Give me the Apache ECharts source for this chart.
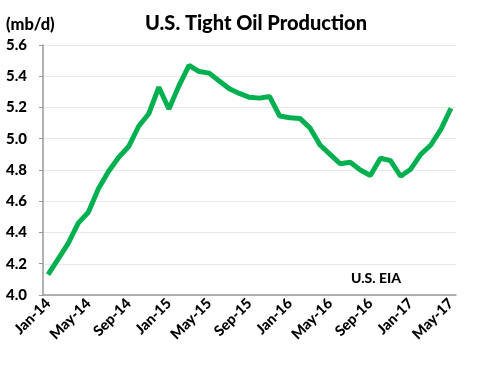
<!DOCTYPE html>
<html>
<head>
<meta charset="utf-8">
<script src="https://cdn.jsdelivr.net/npm/echarts@6/dist/echarts.min.js"></script>
<style>html,body{margin:0;padding:0;background:#fff}#c{width:478px;height:366px}</style>
</head>
<body>
<div id="c"></div>
<script>
const months = ['Jan','Feb','Mar','Apr','May','Jun','Jul','Aug','Sep','Oct','Nov','Dec'];
const categories = [];
for (let y = 14; y <= 17; y++) for (let m = 0; m < 12; m++) { if (y === 17 && m > 4) break; categories.push(months[m] + '-' + y); }
const production = [4.13,4.23,4.33,4.46,4.53,4.68,4.79,4.88,4.95,5.08,5.16,5.33,
  5.19,5.34,5.47,5.43,5.42,5.37,5.32,5.29,5.265,5.26,5.27,5.145,
  5.135,5.13,5.07,4.96,4.90,4.84,4.85,4.80,4.765,4.875,4.86,4.76,
  4.805,4.90,4.96,5.06,5.195];
const yTicks = {min: 4.0, max: 5.6, interval: 0.2};
const font = 'Lato, "Liberation Sans", sans-serif';
const chart = echarts.init(document.getElementById('c'));
chart.setOption({
  animation: false,
  title: [{text: 'U.S. Tight Oil Production', left: 251, top: 9, textAlign: 'center',
    textStyle: {fontFamily: font, fontSize: 20, fontWeight: 900, color: '#000'}},
    {text: '(mb/d)', left: 1, top: 11, textStyle: {fontFamily: font, fontSize: 16.5, fontWeight: 900, color: '#000'}},
    {text: 'U.S. EIA', left: 346, top: 266, textStyle: {fontFamily: font, fontSize: 14, fontWeight: 900, color: '#000'}}],
  grid: {left: 43, right: 22, top: 45, bottom: 71},
  xAxis: {type: 'category', data: categories, boundaryGap: true,
    axisLine: {lineStyle: {color: '#999', width: 1.5}},
    axisTick: {interval: 3, length: 5, lineStyle: {color: '#999', width: 1.5}},
    axisLabel: {interval: 3, rotate: 45, margin: 6, fontFamily: font, fontSize: 14.5, fontWeight: 900, color: '#000'}},
  yAxis: {type: 'value', min: yTicks.min, max: yTicks.max, interval: yTicks.interval,
    axisLine: {show: true, lineStyle: {color: '#999', width: 1.5}},
    axisTick: {show: true, length: 4, lineStyle: {color: '#999'}},
    splitLine: {lineStyle: {color: '#e8e8e8', width: 1}},
    axisLabel: {margin: 16, formatter: v => v.toFixed(1), fontFamily: font, fontSize: 15, fontWeight: 900, color: '#000'}},
  series: [{type: 'line', data: production, showSymbol: false,
    lineStyle: {color: '#00b050', width: 5}, itemStyle: {color: '#00b050'}}]
});
</script>
</body>
</html>
